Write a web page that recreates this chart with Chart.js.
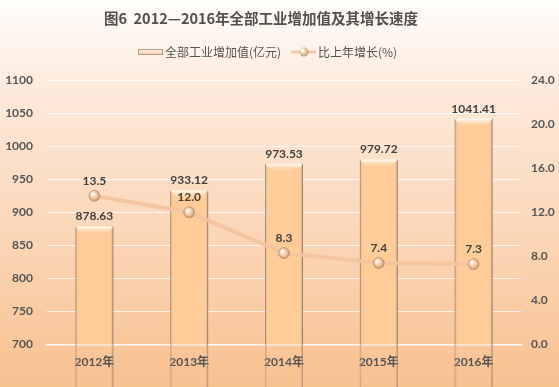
<!DOCTYPE html>
<html><head><meta charset="utf-8">
<script src="https://cdn.jsdelivr.net/npm/chart.js@4"></script>
<style>html,body{margin:0;padding:0;background:#fff}#w{width:559px;height:387px}</style>
</head><body><div id="w"><canvas id="c" width="559" height="387"></canvas></div>
<script>
const categories = ['2012年','2013年','2014年','2015年','2016年'];
const valueAdded = [878.63, 933.12, 973.53, 979.72, 1041.41];
const growthRate = [13.5, 12.0, 8.3, 7.4, 7.3];
const titleText = '图6  2012—2016年全部工业增加值及其增长速度';
const legendBar = '全部工业增加值(亿元)';
const legendLine = '比上年增长(%)';

const FONT = "Lato, 'Noto Sans CJK SC', sans-serif";
const TXT = '#555555';
const BAR_DS = 1, LINE_DS = 0;

const bgPlugin = {
  id: 'bg',
  beforeDraw(chart) {
    const {ctx, width, height} = chart;
    const g = ctx.createLinearGradient(0, 0, 0, height);
    g.addColorStop(0, '#fffdfb');
    g.addColorStop(0.25, '#fde9da');
    g.addColorStop(0.7, '#fad1ae');
    g.addColorStop(1, '#f8c190');
    ctx.save();
    ctx.fillStyle = g;
    ctx.fillRect(0, 0, width, height);
    ctx.restore();
  }
};

const headPlugin = {
  id: 'head',
  afterDraw(chart) {
    const {ctx} = chart;
    ctx.save();
    ctx.fillStyle = '#505050';
    ctx.font = "bold 14.5px 'Noto Sans CJK SC', sans-serif";
    ctx.textAlign = 'center';
    ctx.textBaseline = 'middle';
    ctx.fillText(titleText, 261, 18);
    ctx.font = "12px 'Noto Sans CJK SC', sans-serif";
    ctx.textAlign = 'left';
    const sx = 138, sy = 49, sw = 25, sh = 6;
    const g = ctx.createLinearGradient(0, sy, 0, sy + sh);
    g.addColorStop(0, '#fff6ee'); g.addColorStop(1, '#f7c59a');
    ctx.fillStyle = g; ctx.fillRect(sx, sy, sw, sh);
    ctx.strokeStyle = '#b0a090'; ctx.lineWidth = 1; ctx.strokeRect(sx + 0.5, sy + 0.5, sw - 1, sh - 1);
    ctx.fillStyle = TXT;
    ctx.fillText(legendBar, 165, 52);
    ctx.strokeStyle = '#f5c8a2'; ctx.lineWidth = 3;
    ctx.beginPath(); ctx.moveTo(291, 52); ctx.lineTo(316, 52); ctx.stroke();
    const rg = ctx.createRadialGradient(302, 50, 1, 304, 52, 5);
    rg.addColorStop(0, '#fffaf3'); rg.addColorStop(1, '#c8956a');
    ctx.fillStyle = rg; ctx.beginPath(); ctx.arc(304, 52, 4.5, 0, Math.PI * 2); ctx.fill();
    ctx.fillStyle = TXT;
    ctx.fillText(legendLine, 318, 52);
    ctx.restore();
  }
};

const bevelPlugin = {
  id: 'bevel',
  afterDatasetDraw(chart, args) {
    if (args.index !== BAR_DS) return;
    const {ctx} = chart;
    const meta = chart.getDatasetMeta(BAR_DS);
    ctx.save();
    meta.data.forEach(bar => {
      const l = bar.x - bar.width / 2, r = bar.x + bar.width / 2, t = bar.y, b = bar.base;
      if (![l, r, t, b].every(Number.isFinite)) return;
      const sg = ctx.createLinearGradient(l, 0, r, 0);
      sg.addColorStop(0, 'rgba(150,120,100,0.55)');
      sg.addColorStop(0.08, 'rgba(255,204,153,0)');
      sg.addColorStop(0.92, 'rgba(255,204,153,0)');
      sg.addColorStop(1, 'rgba(120,100,90,0.7)');
      ctx.fillStyle = sg;
      ctx.fillRect(l, t, r - l, b - t);
      const tg = ctx.createLinearGradient(0, t, 0, t + 7);
      tg.addColorStop(0, '#fffefb');
      tg.addColorStop(1, 'rgba(255,214,170,0.2)');
      ctx.fillStyle = tg;
      ctx.beginPath();
      ctx.moveTo(l, t); ctx.lineTo(r, t); ctx.lineTo(r - 6, t + 7); ctx.lineTo(l + 6, t + 7); ctx.closePath();
      ctx.fill();
    });
    ctx.restore();
  }
};

const labelPlugin = {
  id: 'labels',
  afterDatasetsDraw(chart) {
    const {ctx} = chart;
    ctx.save();
    ctx.font = "bold 12px " + FONT;
    ctx.fillStyle = '#404040';
    ctx.textAlign = 'center';
    ctx.textBaseline = 'middle';
    chart.getDatasetMeta(BAR_DS).data.forEach((bar, i) => {
      ctx.fillText(valueAdded[i].toFixed(2), bar.x, bar.y - 10);
    });
    chart.getDatasetMeta(LINE_DS).data.forEach((pt, i) => {
      ctx.fillText(growthRate[i].toFixed(1), pt.x, pt.y - 15);
    });
    ctx.restore();
  }
};

const ctx = document.getElementById('c').getContext('2d');
const pointGrad = (context) => {
  const c = context.chart.ctx;
  const el = context.element;
  if (!el || !Number.isFinite(el.x) || !Number.isFinite(el.y)) return '#e8b88c';
  const g = c.createRadialGradient(el.x - 2, el.y - 2, 0.5, el.x, el.y, 6);
  g.addColorStop(0, '#fffaf2');
  g.addColorStop(0.6, '#eec39c');
  g.addColorStop(1, '#b88660');
  return g;
};

new Chart(ctx, {
  data: {
    labels: categories,
    datasets: [
      {
        type: 'line',
        label: legendLine,
        data: growthRate,
        yAxisID: 'y1',
        borderColor: 'rgba(243,196,158,0.95)',
        borderWidth: 4,
        tension: 0,
        pointRadius: 5.5,
        pointHoverRadius: 5.5,
        pointBackgroundColor: pointGrad,
        pointBorderColor: 'rgba(170,130,100,0.6)',
        pointBorderWidth: 0.8,
        order: 0
      },
      {
        type: 'bar',
        label: legendBar,
        data: valueAdded,
        yAxisID: 'y',
        backgroundColor: '#ffcc99',
        borderColor: 'rgba(150,130,115,0.8)',
        borderWidth: {left: 1, right: 1, top: 0, bottom: 0},
        categoryPercentage: 1,
        barPercentage: 0.4,
        order: 1
      }
    ]
  },
  options: {
    responsive: false,
    animation: false,
    devicePixelRatio: 1,
    layout: {padding: {top: 80, bottom: 8, left: 0, right: 0}},
    plugins: {legend: {display: false}, title: {display: false}, tooltip: {enabled: false}},
    scales: {
      x: {
        grid: {display: false, drawTicks: false},
        border: {display: true, color: 'rgba(255,255,255,0.9)', width: 1.5},
        ticks: {color: TXT, font: {family: FONT, size: 12, weight: 'bold'}, padding: 10}
      },
      y: {
        position: 'left',
        min: 700, max: 1100,
        afterFit(s) { s.width = 47; },
        grid: {color: 'rgba(255,255,255,0.75)', lineWidth: 1, drawTicks: false},
        border: {display: false},
        ticks: {stepSize: 50, color: TXT, font: {family: FONT, size: 12, weight: 'bold'}, padding: 14,
          callback: v => String(v)}
      },
      y1: {
        position: 'right',
        min: 0, max: 24,
        afterFit(s) { s.width = 38; },
        grid: {display: false, drawTicks: false},
        border: {display: false},
        ticks: {stepSize: 4, color: TXT, font: {family: FONT, size: 12, weight: 'bold'}, padding: 10,
          callback: v => v.toFixed(1)}
      }
    }
  },
  plugins: [bgPlugin, headPlugin, bevelPlugin, labelPlugin]
});
</script>
</body></html>
